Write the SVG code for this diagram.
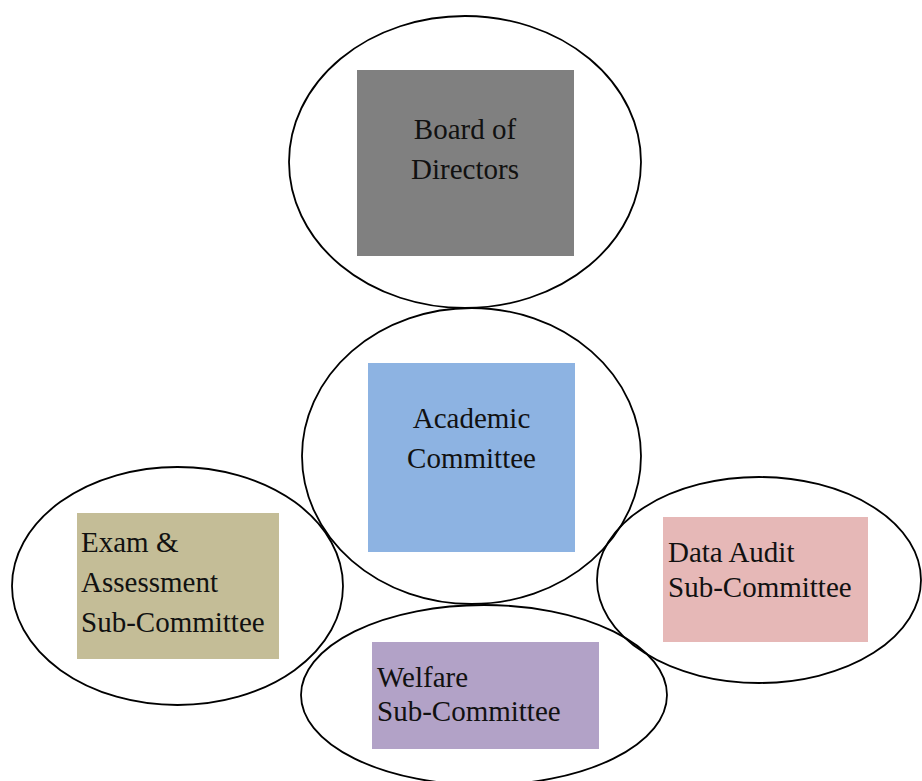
<svg xmlns="http://www.w3.org/2000/svg" width="922" height="781" viewBox="0 0 922 781">
<style>
.ring{fill:none;stroke:#000;stroke-width:1.8}
.t{font-family:"Liberation Serif","Times New Roman",serif;font-size:29px;fill:#111}
.c{text-anchor:middle}
</style>
<rect width="922" height="781" fill="#fff"/>
<g id="board">
<rect x="357" y="70" width="217" height="186" fill="#808080"/>
<ellipse class="ring" cx="465" cy="162" rx="176" ry="146"/>
<text class="t c" x="465" y="139">Board of</text>
<text class="t c" x="465" y="179">Directors</text>
</g>
<g id="academic">
<rect x="368" y="363" width="207" height="189" fill="#8db3e2"/>
<ellipse class="ring" cx="471.5" cy="456" rx="169.5" ry="148"/>
<text class="t c" x="471.5" y="428">Academic</text>
<text class="t c" x="471.5" y="468">Committee</text>
</g>
<g id="exam">
<rect x="77" y="513" width="202" height="146" fill="#c4bd97"/>
<ellipse class="ring" cx="177.5" cy="586" rx="165.5" ry="119"/>
<text class="t" x="81" y="552">Exam &amp;</text>
<text class="t" x="81" y="592">Assessment</text>
<text class="t" x="81" y="632">Sub-Committee</text>
</g>
<g id="data-audit">
<rect x="663" y="517" width="205" height="125" fill="#e6b8b7"/>
<ellipse class="ring" cx="759" cy="580" rx="162" ry="103"/>
<text class="t" x="668" y="562">Data Audit</text>
<text class="t" x="668" y="597">Sub-Committee</text>
</g>
<g id="welfare">
<rect x="372" y="642" width="227" height="107" fill="#b2a2c7"/>
<ellipse class="ring" cx="484" cy="695" rx="183" ry="90"/>
<text class="t" x="377" y="687">Welfare</text>
<text class="t" x="377" y="721">Sub-Committee</text>
</g>
<g id="connectors"/>
</svg>
